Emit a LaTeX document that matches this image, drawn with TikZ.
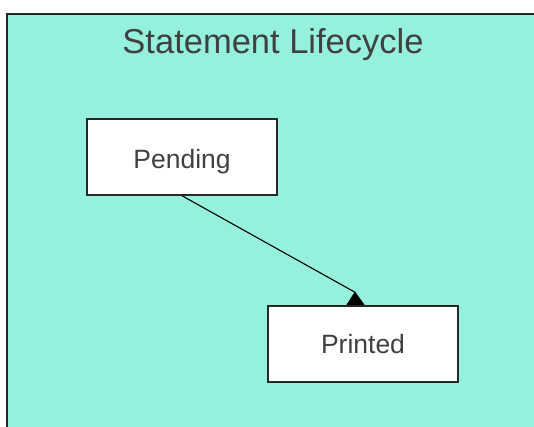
\documentclass[tikz,border=0pt]{standalone}
\usepackage{fontspec}
\setmainfont{Liberation Sans}
\usetikzlibrary{arrows.meta}
\definecolor{bgteal}{RGB}{150,240,222}
\definecolor{txtgray}{RGB}{64,64,64}
\definecolor{edgegray}{RGB}{40,40,40}
\tikzset{
  statebox/.style={draw=edgegray, line width=1.5pt, fill=white, minimum width=190pt, minimum height=76pt, inner sep=0pt, text=txtgray, font=\fontsize{26.5}{30}\selectfont},
  conn/.style={draw=black, line width=1.1pt},
}
\begin{document}
\begin{tikzpicture}[x=1pt,y=-1pt]
\useasboundingbox (0,0) rectangle (534,427);
\fill[white] (0,0) rectangle (534,427);
\begin{scope}
\clip (0,0) rectangle (534,427);
\draw[draw=edgegray, line width=2pt, fill=bgteal] (7,14) rectangle (545,440);
\end{scope}
\node (title) at (273,45) [text=txtgray, font=\fontsize{34.5}{40}\selectfont] {Statement Lifecycle};
\node[statebox, text depth=0pt] (pending) at (182,157) {\raisebox{-3pt}{Pending}};
\node[statebox] (printed) at (363,344) {Printed};
\coordinate (tip) at ([xshift=-8pt,yshift=13pt]printed.north);
\coordinate (bl) at ([xshift=-16pt,yshift=0.5pt]printed.north);
\coordinate (br) at ([xshift=1pt,yshift=0.5pt]printed.north);
\draw[conn] (pending.south) -- (tip);
\filldraw[black, line width=0.8pt, line join=round] (tip) -- (bl) -- (br) -- cycle;
\end{tikzpicture}
\end{document}
